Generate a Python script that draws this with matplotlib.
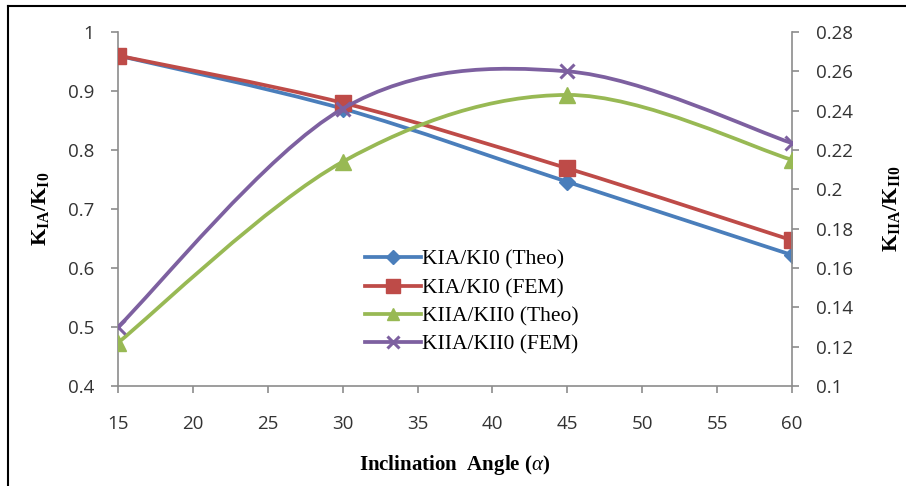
import matplotlib
matplotlib.use('Agg')
import matplotlib.pyplot as plt
from matplotlib.path import Path
from matplotlib.patches import PathPatch
from matplotlib.lines import Line2D

# ===== DADOS =====
angles = [15, 30, 45, 60]
ki_theo = [0.96, 0.87, 0.746, 0.622]
ki_fem = [0.96, 0.88, 0.769, 0.647]
kii_theo = [0.122, 0.214, 0.248, 0.215]
kii_fem = [0.130, 0.241, 0.260, 0.2235]

x_ticks = [15, 20, 25, 30, 35, 40, 45, 50, 55, 60]
left_ticks = [0.4, 0.5, 0.6, 0.7, 0.8, 0.9, 1.0]
left_labels = ['0.4', '0.5', '0.6', '0.7', '0.8', '0.9', '1']
right_ticks = [0.1, 0.12, 0.14, 0.16, 0.18, 0.2, 0.22, 0.24, 0.26, 0.28]
right_labels = ['0.1', '0.12', '0.14', '0.16', '0.18', '0.2', '0.22', '0.24', '0.26', '0.28']
series_labels = ['KIA/KI0 (Theo)', 'KIA/KI0 (FEM)', 'KIIA/KII0 (Theo)', 'KIIA/KII0 (FEM)']

BLUE = '#4a7ebb'
RED = '#be4b48'
GREEN = '#98b954'
PURPLE = '#7d60a0'
GRAY = '#8c8c8c'
TICK_COLOR = '#333333'
TICK_FONT = ['Open Sans', 'DejaVu Sans']
SERIF = ['Liberation Serif', 'DejaVu Serif']
LW = 2.7

plt.rcParams['mathtext.fontset'] = 'custom'
plt.rcParams['mathtext.rm'] = 'Liberation Serif'
plt.rcParams['mathtext.bf'] = 'Liberation Serif:bold'
plt.rcParams['mathtext.it'] = 'Liberation Serif:italic'


def smooth_path(xs, ys):
    # curva suavizada estilo Excel (Bezier com pontos de controle a 1/6)
    n = len(xs)
    verts = [(xs[0], ys[0])]
    codes = [Path.MOVETO]
    for i in range(n - 1):
        x0, y0 = (xs[i - 1], ys[i - 1]) if i > 0 else (xs[i], ys[i])
        x3, y3 = (xs[i + 2], ys[i + 2]) if i + 2 < n else (xs[i + 1], ys[i + 1])
        c1 = (xs[i] + (xs[i + 1] - x0) / 6, ys[i] + (ys[i + 1] - y0) / 6)
        c2 = (xs[i + 1] - (x3 - xs[i]) / 6, ys[i + 1] - (y3 - ys[i]) / 6)
        verts += [c1, c2, (xs[i + 1], ys[i + 1])]
        codes += [Path.CURVE4] * 3
    return Path(verts, codes)


def draw_series(ax, ys, color, marker, ms, mew=1.0):
    patch = PathPatch(smooth_path(angles, ys), facecolor='none', edgecolor=color,
                      lw=LW, capstyle='round', joinstyle='round', zorder=2)
    ax.add_patch(patch)
    ax.plot(angles, ys, linestyle='none', marker=marker, ms=ms, color=color,
            mec=color, mew=mew, zorder=3)


fig = plt.figure(figsize=(9.06, 4.86), dpi=100)
ax = fig.add_axes([118 / 906, 1 - 386 / 486, (792 - 118) / 906, (386 - 32) / 486])
ax2 = ax.twinx()

draw_series(ax, ki_theo, BLUE, 'D', 8)
draw_series(ax, ki_fem, RED, 's', 12)
draw_series(ax2, kii_theo, GREEN, '^', 11)
draw_series(ax2, kii_fem, PURPLE, 'x', 10, mew=2.2)

ax.set_xlim(15, 60)
ax.set_ylim(0.4, 1.0)
ax2.set_ylim(0.1, 0.28)
ax.set_xticks(x_ticks)
ax.set_yticks(left_ticks)
ax2.set_yticks(right_ticks)
ax.set_xticklabels([str(t) for t in x_ticks], family=TICK_FONT, fontsize=13.5, color=TICK_COLOR)
ax.set_yticklabels(left_labels, family=TICK_FONT, fontsize=13.5, color=TICK_COLOR)
ax2.set_yticklabels(right_labels, family=TICK_FONT, fontsize=13.5, color=TICK_COLOR)

for a in (ax, ax2):
    a.spines['top'].set_visible(False)
    for s in ('left', 'right', 'bottom'):
        a.spines[s].set_color(GRAY)
        a.spines[s].set_linewidth(1.2)
ax.spines['right'].set_visible(False)
ax2.spines['left'].set_visible(False)
ax2.spines['bottom'].set_visible(False)

ax.tick_params(axis='x', direction='out', length=5, color=GRAY, width=1.2, pad=16)
ax.tick_params(axis='y', direction='out', length=5, color=GRAY, width=1.2, pad=12)
ax2.tick_params(axis='y', direction='out', length=5, color=GRAY, width=1.2, pad=12)

ax.set_ylabel(r'$\mathbf{K_{IA}/K_{I0}}$', fontsize=16, labelpad=12)
ax2.set_ylabel(r'$\mathbf{K_{IIA}/K_{II0}}$', fontsize=16, labelpad=20)
ax.set_xlabel(r'Inclination  Angle ($\mathit{\alpha}$)', family=SERIF, fontsize=15,
              fontweight='bold', labelpad=14)

handles = [
    Line2D([], [], color=BLUE, lw=LW, marker='D', ms=7),
    Line2D([], [], color=RED, lw=LW, marker='s', ms=10),
    Line2D([], [], color=GREEN, lw=LW, marker='^', ms=9),
    Line2D([], [], color=PURPLE, lw=LW, marker='x', ms=9, mew=2.2),
]
leg = ax2.legend(handles, series_labels, loc='upper left', bbox_to_anchor=(0.35, 0.415),
                 frameon=False, prop={'family': SERIF, 'size': 15.5},
                 handlelength=2.6, handletextpad=0.05, labelspacing=0.38, borderpad=0)

# moldura externa (só esquerda e topo visíveis)
fig.add_artist(Line2D([8 / 906, 8 / 906], [0, 1 - 6 / 486], color='black', lw=1.5))
fig.add_artist(Line2D([8 / 906, 1], [1 - 6 / 486, 1 - 6 / 486], color='black', lw=1.5))

fig.savefig('out.png', dpi=100)
plt.close(fig)
